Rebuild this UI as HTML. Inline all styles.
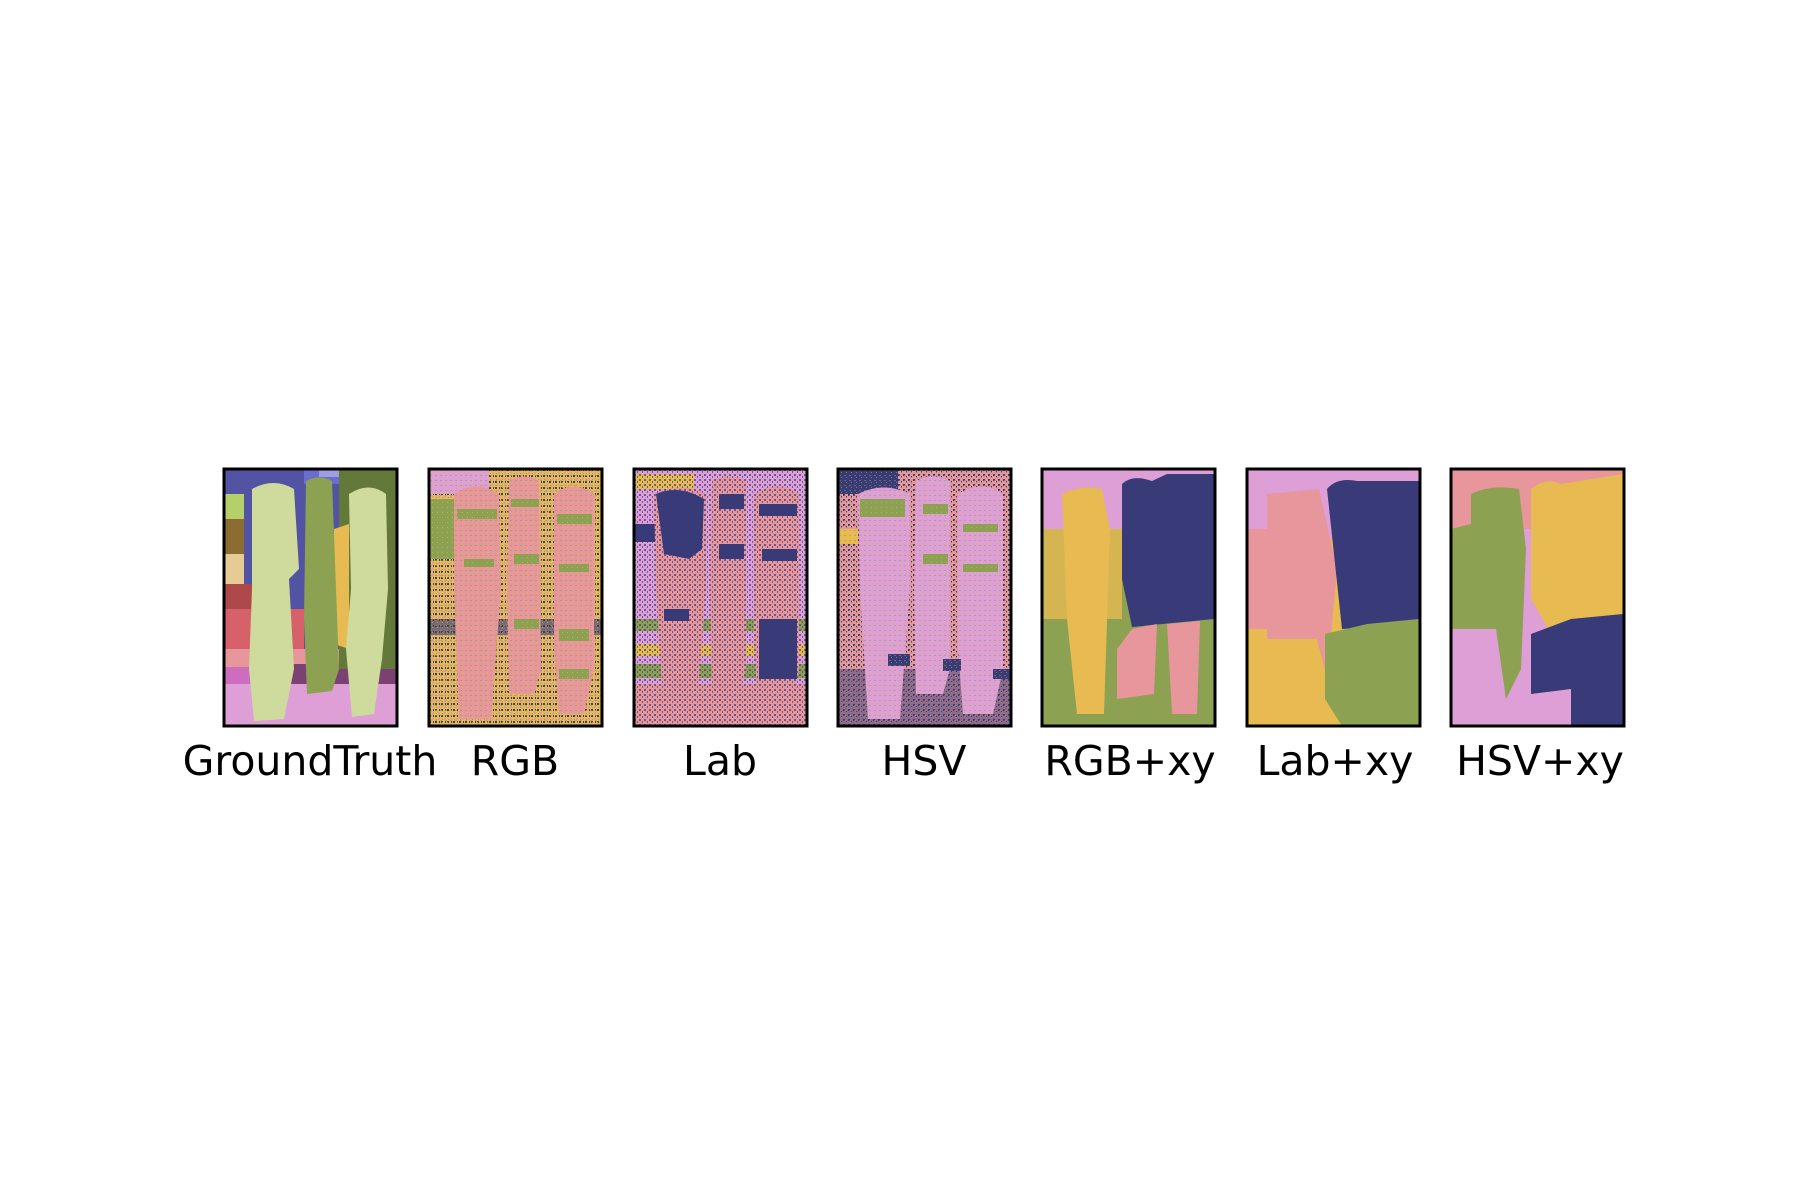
<!DOCTYPE html>
<html><head><meta charset="utf-8"><style>
html,body{margin:0;padding:0;background:#fff;width:1800px;height:1200px;overflow:hidden}
svg{position:absolute;left:0;top:0}
text{font-family:"DejaVu Sans","Liberation Sans",sans-serif;font-size:41px;fill:#000}
</style></head><body>
<svg width="1800" height="1200">
<defs>
<pattern id="nz1" width="6" height="6" patternUnits="userSpaceOnUse"><rect x="0" y="0" width="2" height="2" fill="#393b79"/><rect x="3" y="3" width="2" height="2" fill="#e7969c"/><rect x="4" y="0" width="1" height="2" fill="#393b79"/><rect x="1" y="4" width="1" height="1" fill="#8ca252"/></pattern>
<pattern id="nz2" width="5" height="5" patternUnits="userSpaceOnUse"><rect x="0" y="0" width="2" height="2" fill="#393b79"/><rect x="3" y="2" width="1" height="2" fill="#393b79"/></pattern>
<pattern id="nz3" width="5" height="5" patternUnits="userSpaceOnUse"><rect x="1" y="1" width="2" height="1" fill="#8ca252"/><rect x="3" y="3" width="1" height="1" fill="#e7ba52"/></pattern>
</defs>

<g transform="translate(224,469)">
<rect width="173" height="257" fill="#5254a3"/>
<rect x="0" y="25" width="20" height="40" fill="#b5cf6b"/>
<rect x="0" y="50" width="20" height="35" fill="#8c6d31"/>
<rect x="0" y="85" width="20" height="30" fill="#e7cb94"/>
<rect x="0" y="115" width="60" height="30" fill="#ad494a"/>
<rect x="0" y="140" width="80" height="40" fill="#d6616b"/>
<rect x="0" y="180" width="173" height="22" fill="#e7969c"/>
<rect x="50" y="195" width="123" height="25" fill="#7b4173"/>
<rect x="0" y="198" width="60" height="25" fill="#ce6dbd"/>
<rect x="0" y="215" width="173" height="42" fill="#de9ed6"/>
<rect x="80" y="0" width="35" height="15" fill="#6b6ecf"/>
<rect x="95" y="0" width="20" height="8" fill="#9c9ede"/>
<rect x="115" y="0" width="58" height="200" fill="#637939"/>
<path d="M110 60 L125 55 L125 180 L110 175 Z" fill="#e7ba52"/>
<path d="M82 12 Q95 5 108 12 L115 200 L108 222 L83 225 L80 150 Z" fill="#8ca252"/>
<path d="M28 20 Q50 8 70 20 L75 100 L65 110 L70 200 L60 250 L30 252 L25 200 L28 120 Z" fill="#cedb9c"/>
<path d="M125 25 Q145 12 162 25 L164 120 L158 190 L150 245 L128 248 L122 180 L127 120 Z" fill="#cedb9c"/>
</g>

<g transform="translate(429,469)">
<rect width="173" height="257" fill="#e7ba52"/>
<rect width="173" height="257" fill="url(#nz1)"/>
<rect x="0" y="0" width="60" height="25" fill="#de9ed6"/>
<rect x="0" y="30" width="30" height="60" fill="#8ca252"/>
<rect x="0" y="150" width="173" height="16" fill="#393b79" opacity="0.6"/>
<path d="M25 25 Q45 10 70 25 L72 120 L62 250 L30 250 L25 120 Z" fill="#e7969c"/>
<path d="M80 12 Q95 3 110 12 L112 200 L105 225 L80 225 L78 120 Z" fill="#e7969c"/>
<path d="M125 25 Q145 10 165 25 L165 200 L155 245 L130 245 L125 180 Z" fill="#e7969c"/>
<g fill="#8ca252"><rect x="28" y="40" width="40" height="10"/><rect x="82" y="30" width="28" height="8"/><rect x="128" y="45" width="35" height="10"/><rect x="35" y="90" width="30" height="8"/><rect x="85" y="85" width="25" height="10"/><rect x="130" y="95" width="30" height="8"/><rect x="85" y="150" width="25" height="10"/><rect x="130" y="160" width="30" height="12"/><rect x="130" y="200" width="30" height="10"/></g>
<rect width="173" height="257" fill="url(#nz3)" opacity="0.6"/>
</g>

<g transform="translate(634,469)">
<rect width="173" height="257" fill="#de9ed6"/>
<rect x="0" y="5" width="60" height="15" fill="#e7ba52"/>
<rect x="0" y="55" width="30" height="18" fill="#393b79"/>
<rect x="0" y="150" width="173" height="12" fill="#8ca252"/>
<rect x="0" y="175" width="173" height="12" fill="#e7ba52"/>
<rect x="0" y="195" width="173" height="14" fill="#8ca252"/>
<rect x="0" y="215" width="173" height="42" fill="#e7969c"/>
<path d="M20 25 Q45 12 72 25 L72 120 L62 250 L30 250 L22 120 Z" fill="#e7969c"/>
<path d="M78 12 Q95 3 112 12 L112 200 L105 225 L78 225 L76 120 Z" fill="#e7969c"/>
<path d="M120 25 Q145 10 165 25 L165 200 L155 245 L125 245 L120 180 Z" fill="#e7969c"/>
<g fill="#393b79"><path d="M22 25 Q45 15 70 30 L68 80 L55 90 L30 85 Z"/><rect x="85" y="25" width="25" height="15"/><rect x="85" y="75" width="25" height="15"/><rect x="125" y="35" width="38" height="12"/><rect x="128" y="80" width="35" height="12"/><rect x="125" y="150" width="38" height="60"/><rect x="30" y="140" width="25" height="12"/></g>
<rect width="173" height="257" fill="url(#nz2)" opacity="0.7"/>
</g>

<g transform="translate(838,469)">
<rect width="173" height="257" fill="#e7969c"/>
<rect width="173" height="257" fill="url(#nz2)"/>
<rect x="0" y="0" width="60" height="25" fill="#393b79"/>
<rect x="0" y="200" width="173" height="57" fill="#393b79" opacity="0.5"/>
<path d="M20 25 Q45 12 72 25 L72 120 L62 250 L30 250 L22 120 Z" fill="#de9ed6"/>
<path d="M78 12 Q95 3 112 12 L112 200 L105 225 L78 225 L76 120 Z" fill="#de9ed6"/>
<path d="M120 25 Q145 10 165 25 L165 200 L155 245 L125 245 L120 180 Z" fill="#de9ed6"/>
<g fill="#8ca252"><rect x="22" y="30" width="45" height="18"/><rect x="85" y="35" width="25" height="10"/><rect x="85" y="85" width="25" height="10"/><rect x="125" y="55" width="35" height="8"/><rect x="125" y="95" width="35" height="8"/><rect x="0" y="60" width="20" height="15" fill="#e7ba52"/></g>
<g fill="#393b79"><rect x="50" y="185" width="22" height="12"/><rect x="105" y="190" width="18" height="12"/><rect x="155" y="200" width="18" height="10"/></g>
<rect width="173" height="257" fill="url(#nz3)" opacity="0.5"/>
</g>

<g transform="translate(1042,469)">
<rect width="173" height="257" fill="#8ca252"/>
<rect x="0" y="0" width="173" height="60" fill="#de9ed6"/>
<rect x="0" y="60" width="80" height="90" fill="#e7ba52" opacity="0.8"/>
<path d="M20 25 Q40 15 60 20 L68 60 L62 245 L35 245 L25 150 Z" fill="#e7ba52"/>
<path d="M80 15 Q90 5 110 12 L125 5 L172 5 L172 150 L90 158 L80 110 Z" fill="#393b79"/>
<path d="M90 160 L115 155 L112 225 L75 230 L75 180 Z" fill="#e7969c"/>
<path d="M125 155 L158 152 L155 245 L130 245 Z" fill="#e7969c"/>
</g>

<g transform="translate(1247,469)">
<rect width="173" height="257" fill="#e7ba52"/>
<rect x="0" y="0" width="173" height="70" fill="#de9ed6"/>
<rect x="0" y="60" width="80" height="100" fill="#e7969c"/>
<path d="M20 25 L72 20 L90 100 L80 210 L70 170 L20 170 Z" fill="#e7969c"/>
<path d="M80 20 Q90 8 110 12 L172 12 L172 155 L95 160 Z" fill="#393b79"/>
<path d="M78 165 L120 155 L172 150 L172 257 L95 257 L78 230 Z" fill="#8ca252"/>
</g>

<g transform="translate(1451,469)">
<rect width="173" height="257" fill="#de9ed6"/>
<rect x="0" y="0" width="173" height="60" fill="#e7969c"/>
<path d="M0 60 L20 55 L20 25 Q40 15 68 20 L75 80 L70 200 L55 230 L45 160 L0 160 Z" fill="#8ca252"/>
<path d="M80 20 Q95 8 110 15 L172 5 L172 150 L100 165 L80 130 Z" fill="#e7ba52"/>
<path d="M80 165 L120 150 L172 145 L172 257 L120 257 L120 220 L80 225 Z" fill="#393b79"/>
</g>

<g fill="none" stroke="#000" stroke-width="3">
<rect x="224" y="469" width="173" height="257"/><rect x="429" y="469" width="173" height="257"/><rect x="634" y="469" width="173" height="257"/><rect x="838" y="469" width="173" height="257"/><rect x="1042" y="469" width="173" height="257"/><rect x="1247" y="469" width="173" height="257"/><rect x="1451" y="469" width="173" height="257"/>
</g>
<g text-anchor="middle">
<text x="310" y="775">GroundTruth</text>
<text x="515" y="775">RGB</text>
<text x="720" y="775">Lab</text>
<text x="924" y="775">HSV</text>
<text x="1130" y="775">RGB+xy</text>
<text x="1335" y="775">Lab+xy</text>
<text x="1540" y="775">HSV+xy</text>
</g>
</svg>
</body></html>
